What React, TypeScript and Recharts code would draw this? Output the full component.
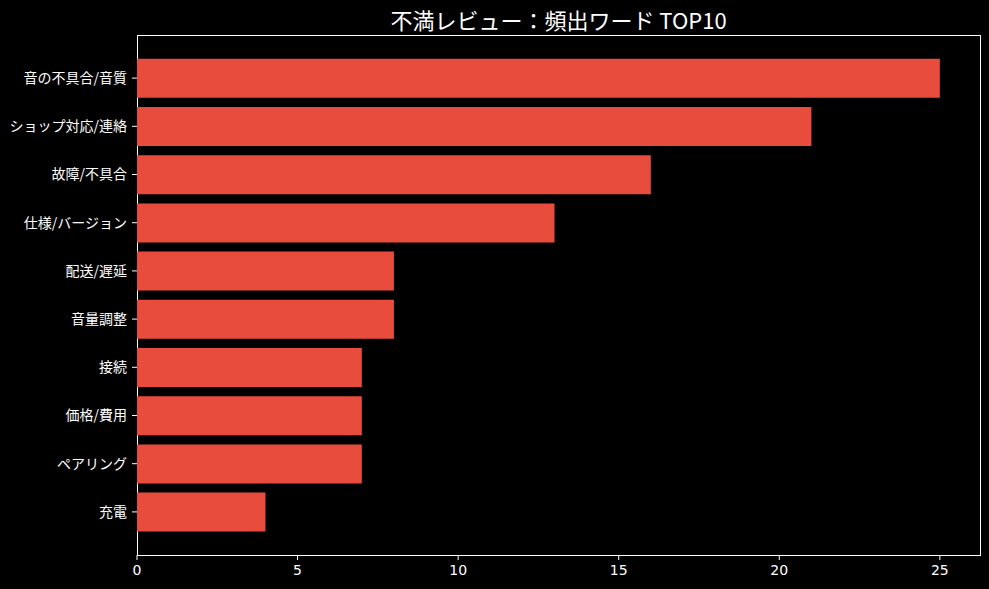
import * as R from "recharts";
import { BarChart, Bar, XAxis, YAxis } from "recharts";

const categories = [
  "音の不具合/音質",
  "ショップ対応/連絡",
  "故障/不具合",
  "仕様/バージョン",
  "配送/遅延",
  "音量調整",
  "接続",
  "価格/費用",
  "ペアリング",
  "充電",
];
const counts = [25, 21, 16, 13, 8, 8, 7, 7, 7, 4];
const xTicks = [0, 5, 10, 15, 20, 25];
const title = "不満レビュー：頻出ワード TOP10";

const data = categories.map((name, i) => ({ name, count: counts[i] }));

const FONT = '"DejaVu Sans", "Noto Sans CJK JP", sans-serif';
const JP = '"Noto Sans CJK JP", sans-serif';
const WHITE = "#ffffff";

// プロット領域の枠線
function Frame() {
  const hook = (R as any).usePlotArea || (R as any).useOffset;
  const area = hook ? hook() : null;
  if (!area) return null;
  const x = area.x ?? area.left;
  const y = area.y ?? area.top;
  return (
    <rect
      x={x}
      y={y}
      width={area.width}
      height={area.height}
      fill="none"
      stroke={WHITE}
      strokeWidth={1}
      shapeRendering="crispEdges"
    />
  );
}

export default function App() {
  return (
    <div
      style={{
        position: "absolute",
        left: 0,
        top: 0,
        width: 989,
        height: 589,
        background: "#000",
        fontFamily: FONT,
      }}
    >
      {/* タイトル */}
      <div
        style={{
          position: "absolute",
          left: 137,
          width: 843,
          top: 4,
          textAlign: "center",
          color: WHITE,
          fontSize: 22,
          fontFamily: JP,
          lineHeight: "30px",
        }}
      >
        {title}
      </div>
      <BarChart
        width={989}
        height={589}
        data={data}
        layout="vertical"
        barCategoryGap="10%"
        margin={{ top: 35, right: 9, left: 0, bottom: 4 }}
      >
        <XAxis
          type="number"
          domain={[0, 26.25]}
          ticks={xTicks}
          allowDataOverflow
          height={30}
          tick={{ fill: WHITE, fontSize: 14, fontFamily: FONT }}
          tickSize={5}
          tickMargin={5}
          axisLine={false}
          tickLine={{ stroke: WHITE }}
        />
        <YAxis
          type="category"
          dataKey="name"
          width={137}
          padding={{ top: 19, bottom: 19 }}
          tick={{ fill: WHITE, fontSize: 14, fontFamily: JP }}
          tickSize={5}
          tickMargin={5}
          interval={0}
          axisLine={false}
          tickLine={{ stroke: WHITE }}
        />
        <Bar dataKey="count" fill="#E74C3C" isAnimationActive={false} />
        <Frame />
      </BarChart>
    </div>
  );
}
